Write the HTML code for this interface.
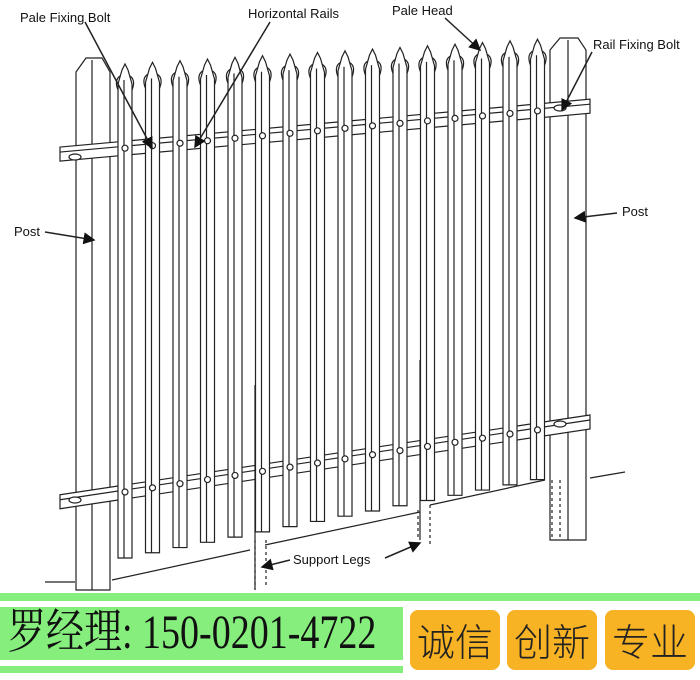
<!DOCTYPE html>
<html><head><meta charset="utf-8"><style>
body{margin:0;width:700px;height:680px;background:#fff;overflow:hidden;position:relative;font-family:"Liberation Sans",sans-serif}
svg{position:absolute;left:0;top:0}
.lbl{position:absolute;font-size:13px;color:#111}
.btn{position:absolute;top:610px;width:90px;height:60px;background:#f7b323;border-radius:8px;font-family:"Noto Sans CJK SC","WenQuanYi Zen Hei",sans-serif;font-weight:300;font-size:38px;line-height:60px;text-align:center;color:#222}
</style></head><body>
<svg id="s" width="700" height="680" viewBox="0 0 700 680">
<defs><marker id="a" markerWidth="8" markerHeight="8" refX="7" refY="4" orient="auto"><path d="M0,0 L8,4 L0,8 z" fill="#111"/></marker></defs>
<g id="g" stroke="#222" fill="#fff" stroke-width="1.2"></g>
<g stroke="#222" stroke-width="1.5" marker-end="url(#a)">
<line x1="85" y1="22" x2="152" y2="148"/>
<line x1="270" y1="22" x2="195" y2="147"/>
<line x1="445" y1="18" x2="480" y2="50"/>
<line x1="592" y1="52" x2="562" y2="110"/>
<line x1="45" y1="232" x2="94" y2="240"/>
<line x1="617" y1="213" x2="575" y2="218"/>
<line x1="290" y1="560" x2="262" y2="567"/>
<line x1="385" y1="558" x2="420" y2="543"/>
</g>
</svg>
<div class="lbl" style="left:20px;top:10px">Pale Fixing Bolt</div>
<div class="lbl" style="left:248px;top:6px">Horizontal Rails</div>
<div class="lbl" style="left:392px;top:3px">Pale Head</div>
<div class="lbl" style="left:593px;top:37px">Rail Fixing Bolt</div>
<div class="lbl" style="left:14px;top:224px">Post</div>
<div class="lbl" style="left:622px;top:204px">Post</div>
<div class="lbl" style="left:293px;top:552px">Support Legs</div>
<div style="position:absolute;left:0;top:593px;width:700px;height:8px;background:#86ee7d"></div>
<div style="position:absolute;left:0;top:607px;width:403px;height:53px;background:#86ee7d"></div>
<div style="position:absolute;left:0;top:666px;width:403px;height:7px;background:#86ee7d"></div>
<div style="position:absolute;left:8px;top:607px;height:53px;line-height:53px;font-family:'Liberation Serif','Noto Serif CJK SC',serif;font-size:38px;color:#111;white-space:nowrap;transform:scaleY(1.25);transform-origin:left center">罗经理: 150-0201-4722</div>
<div class="btn" style="left:410px">诚信</div>
<div class="btn" style="left:507px">创新</div>
<div class="btn" style="left:605px">专业</div>
<script>
var g=document.getElementById('g'),h='';
function P(d,f){h+='<path d="'+d+'"'+(f?' fill="none"':'')+'/>';}
P('M76,72 L86,58 L102,58 L110,72 L110,590 L76,590 Z');P('M92,60 L92,590',1);
P('M550,50 L560,38 L578,38 L586,50 L586,540 L550,540 Z');P('M568,40 L568,540',1);
function ry(x,y0,y1){return y0+(y1-y0)*(x-105)/465;}
[[150,108],[495,425]].forEach(function(r){
P('M60,'+(ry(60,r[0],r[1])-7)+' L590,'+(ry(590,r[0],r[1])-7)+' L590,'+(ry(590,r[0],r[1])+7)+' L60,'+(ry(60,r[0],r[1])+7)+' Z');
P('M60,'+(ry(60,r[0],r[1])-2)+' L590,'+(ry(590,r[0],r[1])-2),1);
});
for(var i=0;i<16;i++){var c=125+i*27.5,t=70-(c-125)*0.06,b=558-(c-125)*0.19,w=7;
P('M'+(c-w)+','+(t+14)+' L'+(c-3)+','+t+' L'+c+','+(t-6)+' L'+(c+3)+','+t+' L'+(c+w)+','+(t+14)+' L'+(c+w)+','+b+' L'+(c-w)+','+b+' Z');
P('M'+(c-1)+','+(t+10)+' L'+(c-1)+','+b,1);
P('M'+(c-w)+','+(t+20)+' q-4,-10 2,-14 M'+(c+w)+','+(t+20)+' q4,-10 -2,-14',1);
h+='<circle cx="'+c+'" cy="'+ry(c,150,108)+'" r="3"/><circle cx="'+c+'" cy="'+ry(c,495,425)+'" r="3"/>';}
h+='<ellipse cx="75" cy="157" rx="6" ry="3"/><ellipse cx="75" cy="500" rx="6" ry="3"/><ellipse cx="560" cy="108" rx="6" ry="3"/><ellipse cx="560" cy="424" rx="6" ry="3"/>';
P('M45,582 L75,582 M112,580 L250,550 M265,545 L420,512 M430,505 L545,480 M590,478 L625,472',1);
P('M255,385 L255,590 M420,360 L420,540',1);
h+='<g stroke-dasharray="3,3"><path d="M255,540 L255,590 M266,540 L266,585 M418,510 L418,540 M430,505 L430,545 M552,480 L552,540 M560,480 L560,540" fill="none"/></g>';
g.innerHTML=h;
</script>
</body></html>
